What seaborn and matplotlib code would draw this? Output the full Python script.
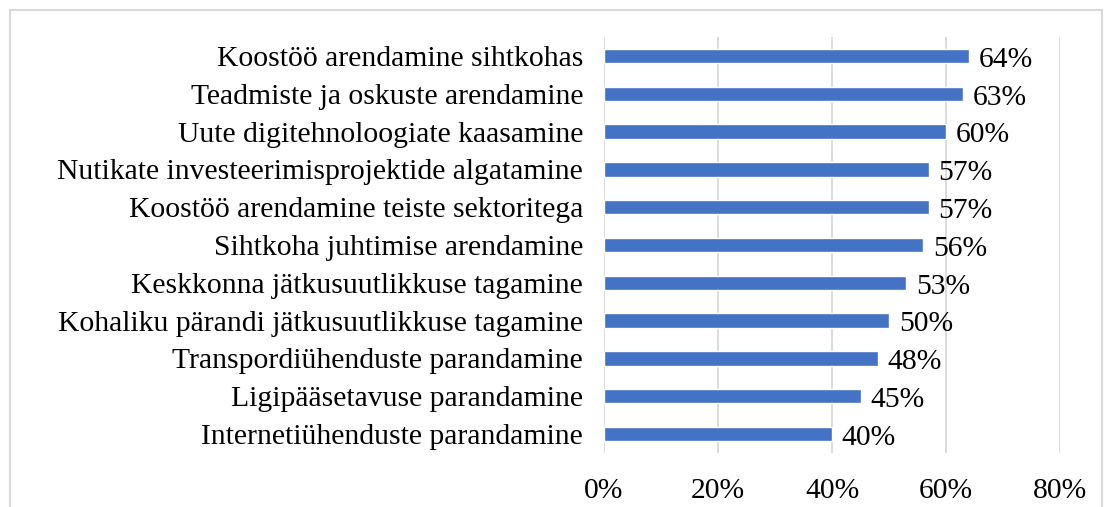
import matplotlib
matplotlib.use("Agg")
import matplotlib.pyplot as plt
import seaborn as sns
import pandas as pd
from matplotlib.patches import Rectangle
from matplotlib.ticker import PercentFormatter

categories = [
    "Koostöö arendamine sihtkohas",
    "Teadmiste ja oskuste arendamine",
    "Uute digitehnoloogiate kaasamine",
    "Nutikate investeerimisprojektide algatamine",
    "Koostöö arendamine teiste sektoritega",
    "Sihtkoha juhtimise arendamine",
    "Keskkonna jätkusuutlikkuse tagamine",
    "Kohaliku pärandi jätkusuutlikkuse tagamine",
    "Transpordiühenduste parandamine",
    "Ligipääsetavuse parandamine",
    "Internetiühenduste parandamine",
]
values = [0.64, 0.63, 0.60, 0.57, 0.57, 0.56, 0.53, 0.50, 0.48, 0.45, 0.40]
x_ticks = [0.0, 0.2, 0.4, 0.6, 0.8]

sns.set_theme(style="white")
plt.rcParams["font.family"] = ["Liberation Serif", "DejaVu Serif"]

df = pd.DataFrame({"cat": categories, "val": values})

fig = plt.figure(figsize=(11.12, 5.07), dpi=100)
ax = fig.add_axes([604/1112, 1 - 453/507, (1060-604)/1112, (453-37)/507])

sns.barplot(data=df, x="val", y="cat", orient="h", color="#4472C4",
            saturation=1, width=0.38, ax=ax, zorder=3)

FS = 21.3
ax.set_xlim(0, 0.8)
ax.set_ylim(10.5, -0.5)
ax.set_xticks(x_ticks)
ax.xaxis.set_major_formatter(PercentFormatter(1.0, decimals=0))
ax.grid(axis="x", color="#d9d9d9", linewidth=1.3, zorder=0)
ax.grid(axis="y", visible=False)
for s in ax.spines.values():
    s.set_visible(False)
ax.set_xlabel("")
ax.set_ylabel("")
ax.tick_params(axis="y", labelsize=FS, pad=15, length=0, colors="black")
ax.tick_params(axis="x", labelsize=FS, pad=18, length=0, colors="black")

for i, v in enumerate(values):
    ax.text(v + 0.017, i + 0.1, f"{round(v*100)}%", va="center", ha="left",
            fontsize=FS, color="black")

fig.patches.append(Rectangle((10/1112, -0.05), (1102-10)/1112, 1.05 - 10/507,
                             transform=fig.transFigure, fill=False,
                             edgecolor="#d9d9d9", linewidth=1.5))

fig.savefig("out.png", dpi=100)
